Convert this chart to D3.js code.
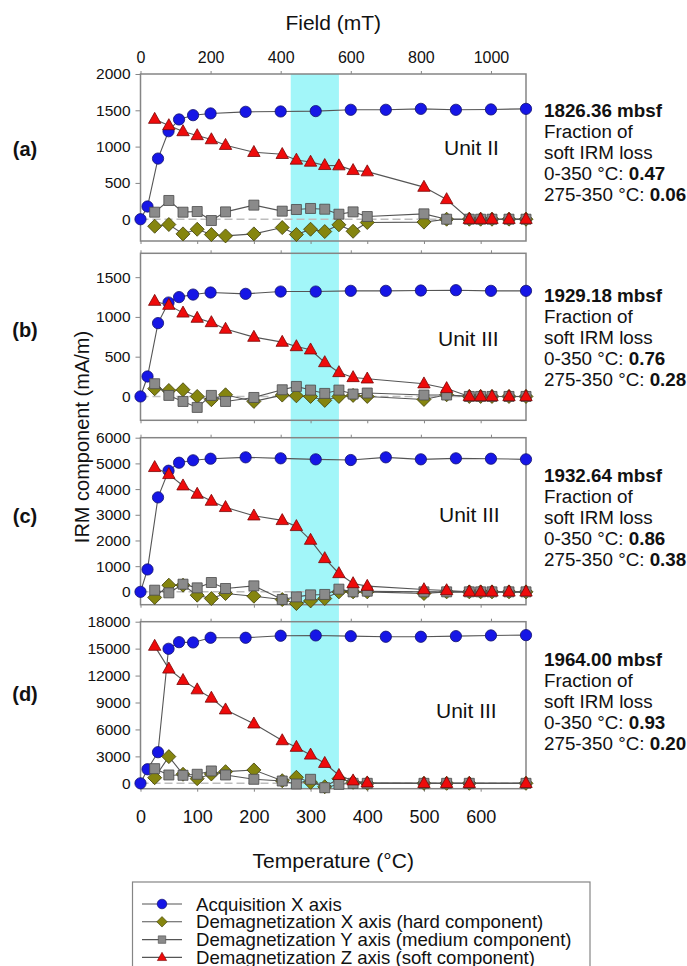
<!DOCTYPE html>
<html>
<head>
<meta charset="utf-8">
<script src="https://cdn.jsdelivr.net/npm/d3@7"></script>
<style>
body { margin: 0; background: #fff; }
svg { display: block; font-family: Arial, "Liberation Sans", sans-serif; }
</style>
</head>
<body>
<div id="chart"></div>
<script>
////////////////////////////////////////////////////////////
//////////////////////// Data //////////////////////////////
////////////////////////////////////////////////////////////

// Acquisition steps (mT) and thermal demagnetization steps (°C)
var fieldSteps = [0, 20, 50, 80, 110, 150, 200, 300, 400, 500, 600, 700, 800, 900, 1000, 1100];
var tempSteps = [25, 50, 75, 100, 125, 150, 200, 250, 275, 300, 325, 350, 375, 400, 500, 540, 580, 600, 620, 650, 680];
var tempStepsD = [25, 50, 75, 100, 125, 150, 200, 250, 275, 300, 325, 350, 375, 400, 500, 540, 580, 680];

// (a) 1826.36 mbsf
var acqA = [0, 175, 835, 1212, 1374, 1433, 1457, 1479, 1484, 1489, 1507, 1507, 1520, 1507, 1512, 1520];
var hardA = [-97, -73, -202, -138, -211, -230, -202, -115, -211, -138, -170, -77, -166, -45, -40, 0, 0, 0, 0, 0, 0];
var mediumA = [97, 258, 97, 106, -18, 101, 194, 111, 134, 148, 138, 69, 101, 37, 74, 0, 0, 0, 0, 0, 0];
var softA = [1378, 1291, 1208, 1153, 1097, 1019, 922, 894, 816, 788, 742, 738, 673, 655, 442, 272, 0, 0, 0, 0, 0];

// (b) 1929.18 mbsf
var acqB = [0, 251, 922, 1181, 1249, 1281, 1307, 1290, 1319, 1319, 1328, 1328, 1332, 1336, 1328, 1328];
var hardB = [97, 75, 84, 0, -41, 21, -63, 17, 8, 0, -50, 0, 13, 0, -38, 21, 0, 0, 0, 0, 0];
var mediumB = [160, 13, -63, -138, 13, -63, -13, 84, 126, 80, 38, 80, 30, 43, 18, 18, 0, 0, 0, 0, 0];
var softB = [1198, 1148, 1051, 985, 930, 847, 746, 683, 628, 587, 427, 302, 239, 222, 160, 101, 0, 0, 0, 0, 0];

// (c) 1932.64 mbsf
var acqC = [0, 872, 3677, 4714, 5026, 5120, 5182, 5236, 5197, 5158, 5131, 5236, 5158, 5197, 5182, 5158];
var hardC = [-218, 260, 260, -130, -260, -65, -169, -300, -454, -351, -260, 0, 0, 0, -65, 0, 0, 0, 0, 0, 0];
var mediumC = [65, -39, 299, 156, 364, 130, 234, -296, -195, -117, -101, 105, 0, 26, 0, 0, 0, 0, 0, 0, 0];
var softC = [4846, 4573, 4130, 3806, 3533, 3288, 2961, 2781, 2548, 2014, 1300, 716, 326, 222, 92, 53, 0, 0, 0, 0, 0];

// (d) 1964.00 mbsf
var acqD = [0, 1565, 3466, 14982, 15720, 15687, 16212, 16212, 16436, 16470, 16390, 16324, 16324, 16390, 16470, 16503];
var hardD = [626, 2974, 1006, 514, 1040, 1297, 1487, 291, 670, 112, -380, 514, 112, 0, 0, 0, 0, 0];
var mediumD = [1632, 928, 894, 1006, 1375, 928, 447, 257, -78, 447, -492, -112, 0, 0, 0, 0, 0, 0];
var softD = [15280, 12745, 11473, 10432, 9503, 8195, 6630, 4763, 4025, 3164, 2236, 894, 291, 67, 0, 0, 0, 0];

// Panel texts
var panelNames = ["(a)", "(b)", "(c)", "(d)"];
var depths = ["1826.36", "1929.18", "1932.64", "1964.00"];
var lossTotal = ["0.47", "0.76", "0.86", "0.93"];
var lossBand = ["0.06", "0.28", "0.38", "0.20"];
var units = ["Unit II", "Unit III", "Unit III", "Unit III"];

// Axes
var yDomains = [[-300, 2000], [-300, 1800], [-500, 6000], [-600, 18000]];
var yTicks = [
    [0, 500, 1000, 1500, 2000],
    [0, 500, 1000, 1500],
    [0, 1000, 2000, 3000, 4000, 5000, 6000],
    [0, 3000, 6000, 9000, 12000, 15000, 18000]
];
var fieldTicks = [0, 200, 400, 600, 800, 1000];
var tempTicks = [0, 100, 200, 300, 400, 500, 600];
var bandRange = [265, 350];

var legendNames = [
    "Acquisition X axis",
    "Demagnetization X axis (hard component)",
    "Demagnetization Y axis (medium component)",
    "Demagnetization Z axis (soft component)"
];

////////////////////////////////////////////////////////////
//////////////////////// Set-up ////////////////////////////
////////////////////////////////////////////////////////////

var width = 687, height = 966;
var plotLeft = 140.5, plotRight = 526;
var panelTops = [74, 253.3, 437.7, 621.7],
    panelH = 167;
// baseline of first annotation line and of the "Unit" text per panel
var noteY = [116.5, 301.5, 482, 666],
    unitPos = [[444, 155], [438, 346], [439, 521.5], [436, 718]],
    nameY = [149, 330, 516, 694];

var svg = d3.select("#chart").append("svg")
    .attr("width", width)
    .attr("height", height)
    .attr("viewBox", "0 0 " + width + " " + height);

var xField = d3.scaleLinear().domain([0, 1100]).range([plotLeft, plotRight]);
var xTemp = d3.scaleLinear().domain([0, 680]).range([plotLeft, plotRight]);

var colors = { acq: "#1616e6", hard: "#85850f", medium: "#8a8a8a", soft: "#ee0b0b" };
var strokes = { acq: "#101070", hard: "#3d3d05", medium: "#4a4a4a", soft: "#7a0606" };
var shapes = {
    acq: d3.symbol().type(d3.symbolCircle).size(100)(),
    hard: "M0,-7L7,0L0,7L-7,0Z",
    medium: "M-5,-5H5V5H-5Z",
    soft: "M0,-6.8L6.2,4.2H-6.2Z"
};

var panels = [
    { acq: acqA, hard: hardA, medium: mediumA, soft: softA, temps: tempSteps },
    { acq: acqB, hard: hardB, medium: mediumB, soft: softB, temps: tempSteps },
    { acq: acqC, hard: hardC, medium: mediumC, soft: softC, temps: tempSteps },
    { acq: acqD, hard: hardD, medium: mediumD, soft: softD, temps: tempStepsD }
];

////////////////////////////////////////////////////////////
////////////////////// Shaded band /////////////////////////
////////////////////////////////////////////////////////////

svg.append("rect")
    .attr("x", xTemp(bandRange[0]))
    .attr("y", panelTops[0])
    .attr("width", xTemp(bandRange[1]) - xTemp(bandRange[0]))
    .attr("height", panelTops[3] + panelH - panelTops[0])
    .style("fill", "#a2f6f9");

////////////////////////////////////////////////////////////
//////////////////////// Panels ////////////////////////////
////////////////////////////////////////////////////////////

panels.forEach(function (p, i) {
    var top = panelTops[i];
    var y = d3.scaleLinear().domain(yDomains[i]).range([top + panelH, top]);
    var g = svg.append("g").attr("class", "panel");

    //frame
    g.append("rect")
        .attr("x", plotLeft).attr("y", top)
        .attr("width", plotRight - plotLeft).attr("height", panelH)
        .style("fill", "none").style("stroke", "#858585").style("stroke-width", 1.5);

    //dashed zero line
    g.append("line")
        .attr("x1", plotLeft).attr("x2", plotRight)
        .attr("y1", y(0)).attr("y2", y(0))
        .style("stroke", "#bdbdbd").style("stroke-width", 1.5)
        .style("stroke-dasharray", "8,4");

    //y axis
    var yAxis = g.append("g")
        .attr("transform", "translate(" + plotLeft + ",0)")
        .call(d3.axisLeft(y).tickValues(yTicks[i]).tickSize(5).tickPadding(5).tickFormat(d3.format("d")));
    yAxis.select(".domain").remove();
    yAxis.selectAll("text").style("font-size", "15.5px").style("fill", "#111");
    yAxis.selectAll("line").style("stroke", "#858585");

    //field ticks on top
    var top_ = g.append("g")
        .attr("transform", "translate(0," + top + ")")
        .call(d3.axisTop(xField).tickValues(fieldTicks).tickSize(3).tickPadding(8)
            .tickFormat(i === 0 ? d3.format("d") : function () { return ""; }));
    top_.select(".domain").remove();
    top_.selectAll("text").style("font-size", "16px").style("fill", "#111");
    top_.selectAll("line").style("stroke", "#858585");

    //temperature ticks at bottom
    var bot = g.append("g")
        .attr("transform", "translate(0," + (top + panelH) + ")")
        .call(d3.axisBottom(xTemp).tickValues(tempTicks).tickSize(3).tickPadding(19)
            .tickFormat(i === 3 ? d3.format("d") : function () { return ""; }));
    bot.select(".domain").remove();
    bot.selectAll("text").style("font-size", "18px").style("fill", "#111");
    bot.selectAll("line").style("stroke", "#858585");

    //series: line then markers, acquisition first
    ["acq", "hard", "medium", "soft"].forEach(function (key) {
        var xs = key === "acq" ? fieldSteps : p.temps;
        var xScale = key === "acq" ? xField : xTemp;
        var pts = p[key].map(function (v, j) { return [xScale(xs[j]), y(v)]; });

        g.append("path")
            .attr("d", d3.line()(pts))
            .style("fill", "none").style("stroke", "#555").style("stroke-width", 1.1);

        g.selectAll(".m-" + key)
            .data(pts)
            .enter().append("path")
            .attr("class", "m-" + key)
            .attr("transform", function (d) { return "translate(" + d[0] + "," + d[1] + ")"; })
            .attr("d", shapes[key])
            .style("fill", colors[key])
            .style("stroke", strokes[key])
            .style("stroke-width", 0.8);
    });

    //unit label
    g.append("text")
        .attr("x", unitPos[i][0]).attr("y", unitPos[i][1])
        .style("font-size", "21px").style("fill", "#111")
        .text(units[i]);

    //panel name
    g.append("text")
        .attr("x", 25).attr("y", nameY[i])
        .attr("dy", "0.35em")
        .style("text-anchor", "middle")
        .style("font-size", "20px").style("font-weight", "bold").style("fill", "#111")
        .text(panelNames[i]);

    //annotation on the right
    var note = g.append("text")
        .attr("x", 544).attr("y", noteY[i])
        .style("font-size", "18.8px").style("fill", "#111");
    note.append("tspan").attr("x", 544).style("font-weight", "bold").text(depths[i] + " mbsf");
    note.append("tspan").attr("x", 544).attr("dy", 21).text("Fraction of");
    note.append("tspan").attr("x", 544).attr("dy", 21).text("soft IRM loss");
    note.append("tspan").attr("x", 544).attr("dy", 21).text("0-350 °C: ");
    note.append("tspan").style("font-weight", "bold").text(lossTotal[i]);
    note.append("tspan").attr("x", 544).attr("dy", 21).text("275-350 °C: ");
    note.append("tspan").style("font-weight", "bold").text(lossBand[i]);
});

////////////////////////////////////////////////////////////
//////////////////////// Titles ////////////////////////////
////////////////////////////////////////////////////////////

var midX = (plotLeft + plotRight) / 2;

svg.append("text")
    .attr("x", midX).attr("y", 30)
    .style("text-anchor", "middle").style("font-size", "21px").style("fill", "#111")
    .text("Field (mT)");

svg.append("text")
    .attr("x", midX).attr("y", 868)
    .style("text-anchor", "middle").style("font-size", "21px").style("fill", "#111")
    .text("Temperature (°C)");

svg.append("text")
    .attr("transform", "translate(89,437) rotate(-90)")
    .style("text-anchor", "middle").style("font-size", "20px").style("fill", "#111")
    .text("IRM component (mA/m)");

////////////////////////////////////////////////////////////
//////////////////////// Legend ////////////////////////////
////////////////////////////////////////////////////////////

var legend = svg.append("g").attr("class", "legend");

legend.append("rect")
    .attr("x", 132.5).attr("y", 882)
    .attr("width", 457.5).attr("height", 120)
    .style("fill", "#fff").style("stroke", "#858585").style("stroke-width", 1.2);

var rows = legend.selectAll(".row")
    .data(["acq", "hard", "medium", "soft"])
    .enter().append("g")
    .attr("class", "row")
    .attr("transform", function (d, i) { return "translate(0," + (904 + i * 17.8) + ")"; });

rows.append("line")
    .attr("x1", 142).attr("x2", 182)
    .style("stroke", "#555").style("stroke-width", 1.1);

rows.append("path")
    .attr("transform", function (d) { return d === "acq" ? "translate(162,0) scale(0.85)" : "translate(162,0) scale(0.75)"; })
    .attr("d", function (d) { return shapes[d]; })
    .style("fill", function (d) { return colors[d]; })
    .style("stroke", function (d) { return strokes[d]; })
    .style("stroke-width", 0.8);

rows.append("text")
    .attr("x", 196).attr("dy", "0.35em")
    .style("font-size", "18.6px").style("fill", "#111")
    .text(function (d, i) { return legendNames[i]; });
</script>
</body>
</html>
